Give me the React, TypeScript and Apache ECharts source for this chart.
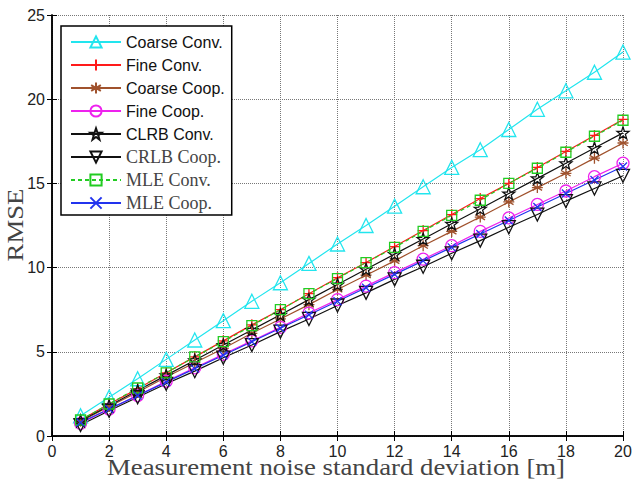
import React, { useEffect, useRef } from "react";
import * as echarts from "echarts";

// Noise standard deviation values [m]
const sigma = [1, 2, 3, 4, 5, 6, 7, 8, 9, 10, 11, 12, 13, 14, 15, 16, 17, 18, 19, 20];

// RMSE per estimator
const coarseConv = [1.2, 2.3, 3.4, 4.55, 5.7, 6.85, 8.0, 9.1, 10.25, 11.4, 12.5, 13.65, 14.8, 15.95, 17.0, 18.2, 19.4, 20.5, 21.6, 22.8];
const fineConv = [0.95, 1.9, 2.8, 3.75, 4.7, 5.65, 6.6, 7.5, 8.45, 9.4, 10.3, 11.25, 12.2, 13.15, 14.1, 15.0, 15.95, 16.9, 17.85, 18.8];
const coarseCoop = [0.87, 1.75, 2.6, 3.5, 4.35, 5.2, 6.1, 6.95, 7.8, 8.7, 9.55, 10.4, 11.3, 12.15, 13.0, 13.9, 14.75, 15.6, 16.5, 17.4];
const fineCoop = [0.75, 1.6, 2.4, 3.25, 4.05, 4.85, 5.65, 6.45, 7.3, 8.1, 8.9, 9.7, 10.5, 11.3, 12.15, 12.95, 13.75, 14.55, 15.4, 16.2];
const clrbConv = [0.9, 1.8, 2.7, 3.6, 4.5, 5.4, 6.3, 7.2, 8.1, 9.0, 9.9, 10.8, 11.7, 12.6, 13.5, 14.4, 15.3, 16.2, 17.1, 18.0];
const crlbCoop = [0.65, 1.5, 2.3, 3.1, 3.85, 4.65, 5.4, 6.2, 6.95, 7.75, 8.5, 9.3, 10.05, 10.85, 11.6, 12.4, 13.15, 13.95, 14.7, 15.45];
const mleConv = [0.95, 1.9, 2.85, 3.75, 4.7, 5.6, 6.55, 7.5, 8.45, 9.35, 10.3, 11.2, 12.15, 13.1, 14.0, 15.0, 15.9, 16.85, 17.8, 18.75];
const mleCoop = [0.8, 1.6, 2.4, 3.2, 4.0, 4.8, 5.6, 6.4, 7.2, 8.0, 8.8, 9.6, 10.4, 11.2, 12.0, 12.8, 13.6, 14.4, 15.2, 16.0];

const xTicks = { min: 0, max: 20, interval: 2 };
const yTicks = { min: 0, max: 25, interval: 5 };

const xTitle = "Measurement noise standard deviation [m]";
const yTitle = "RMSE";

// Marker outlines (stroke-only paths)
const SYM = {
  triangle: "path://M0,-10L8.66,5L-8.66,5Z",
  plus: "path://M0,-10L0,10M-10,0L10,0",
  asterisk: "path://M0,-10L0,10M-8.66,-5L8.66,5M-8.66,5L8.66,-5M-10,0L10,0",
  circle: "path://M10,0A10,10,0,1,1,-10,0A10,10,0,1,1,10,0Z",
  star: "path://M0,-10L2.35,-3.24L9.51,-3.09L3.8,1.24L5.88,8.09L0,4L-5.88,8.09L-3.8,1.24L-9.51,-3.09L-2.35,-3.24Z",
  invTriangle: "path://M0,10L8.66,-5L-8.66,-5Z",
  square: "path://M-10,-10L10,-10L10,10L-10,10Z",
  cross: "path://M-10,-10L10,10M-10,10L10,-10",
};

const SANS = "'Liberation Sans', Arial, sans-serif";
const SERIF = "'Liberation Serif', 'Times New Roman', serif";

type Def = { name: string; data: number[]; color: string; symbol: string; size: number; dashed?: boolean; serifLabel?: boolean };

const defs: Def[] = [
  { name: "Coarse Conv.", data: coarseConv, color: "#22e5ee", symbol: SYM.triangle, size: 14 },
  { name: "Fine Conv.", data: fineConv, color: "#ff1a1a", symbol: SYM.plus, size: 11 },
  { name: "Coarse Coop.", data: coarseCoop, color: "#a0522d", symbol: SYM.asterisk, size: 11 },
  { name: "Fine Coop.", data: fineCoop, color: "#ee22ee", symbol: SYM.circle, size: 12 },
  { name: "CLRB Conv.", data: clrbConv, color: "#111111", symbol: SYM.star, size: 12 },
  { name: "CRLB Coop.", data: crlbCoop, color: "#111111", symbol: SYM.invTriangle, size: 13, serifLabel: true },
  { name: "MLE Conv.", data: mleConv, color: "#22cc22", symbol: SYM.square, size: 10, dashed: true, serifLabel: true },
  { name: "MLE Coop.", data: mleCoop, color: "#2233ee", symbol: SYM.cross, size: 8, serifLabel: true },
];

export default function App() {
  const ref = useRef<HTMLDivElement>(null);

  useEffect(() => {
    if (!ref.current) return;
    const chart = echarts.init(ref.current, undefined, { renderer: "svg" });

    const tickLabel = { color: "#222", fontFamily: SANS, fontSize: 16 };
    const axisLine = { show: true, lineStyle: { color: "#000", width: 1.5 } };
    const split = { show: true, lineStyle: { type: "dotted" as const, color: "#777", width: 1 } };
    const tick = { show: true, inside: true, length: 5, lineStyle: { color: "#000" } };

    chart.setOption({
      animation: false,
      backgroundColor: "#fff",
      grid: { left: 52, right: 10, top: 15, bottom: 44, containLabel: false, outerBoundsMode: "none" },
      legend: {
        orient: "vertical",
        left: 61,
        top: 26,
        itemWidth: 50,
        itemHeight: 14,
        itemGap: 5,
        padding: [7, 7, 3, 9],
        backgroundColor: "#fff",
        borderColor: "#000",
        borderWidth: 1.5,
        textStyle: { fontFamily: SANS, fontSize: 16, lineHeight: 18, color: "#111" },
        data: defs.map((d) => ({
          name: d.name,
          textStyle: d.serifLabel
            ? { fontFamily: SERIF, fontSize: 18, lineHeight: 18, color: "#444" }
            : { fontFamily: SANS, fontSize: 16, lineHeight: 18, color: "#111" },
        })),
      },
      // Axis titles, set in a slightly widened serif face
      graphic: [
        {
          type: "text",
          x: 336,
          y: 467,
          scaleX: 1.14,
          style: { text: xTitle, fontFamily: SERIF, fontSize: 23.5, fill: "#444", align: "center", verticalAlign: "middle" },
        },
        {
          type: "text",
          x: 15,
          y: 225,
          rotation: Math.PI / 2,
          scaleX: 1.14,
          style: { text: yTitle, fontFamily: SERIF, fontSize: 23.5, fill: "#444", align: "center", verticalAlign: "middle" },
        },
      ],
      xAxis: [
        {
          type: "value",
          ...xTicks,
          position: "bottom",
          axisLine,
          axisTick: tick,
          axisLabel: { ...tickLabel, margin: 7 },
          splitLine: split,
        },
        {
          type: "value",
          ...xTicks,
          position: "top",
          axisLine,
          axisTick: tick,
          axisLabel: { show: false },
          splitLine: { show: false },
        },
      ],
      yAxis: [
        {
          type: "value",
          ...yTicks,
          position: "left",
          axisLine,
          axisTick: tick,
          axisLabel: { ...tickLabel, margin: 7 },
          splitLine: split,
        },
        {
          type: "value",
          ...yTicks,
          position: "right",
          axisLine,
          axisTick: tick,
          axisLabel: { show: false },
          splitLine: { show: false },
        },
      ],
      series: defs.map((d) => ({
        name: d.name,
        type: "line",
        xAxisIndex: 0,
        yAxisIndex: 0,
        data: sigma.map((s, i) => [s, d.data[i]]),
        symbol: d.symbol,
        symbolSize: d.size,
        showAllSymbol: true,
        lineStyle: { color: d.color, width: 1.2, type: d.dashed ? [4, 3] : "solid" },
        itemStyle: { color: "rgba(0,0,0,0)", borderColor: d.color, borderWidth: 1.3 },
        emphasis: { disabled: true },
      })),
    });

    return () => chart.dispose();
  }, []);

  return <div ref={ref} style={{ position: "fixed", left: 0, top: 0, width: 633, height: 480 }} />;
}
